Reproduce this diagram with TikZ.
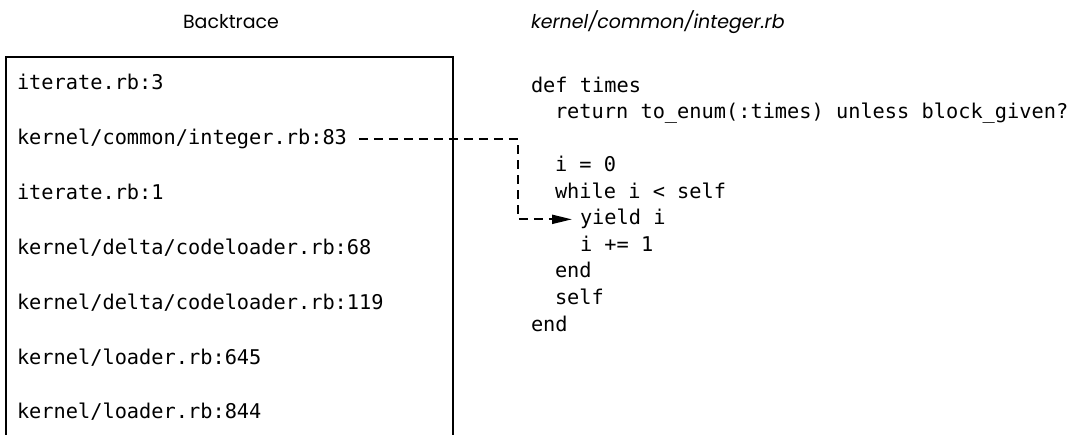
\documentclass[tikz,border=0pt]{standalone}
\usepackage{fontspec}
\setmonofont{DejaVu Sans Mono}
\newfontfamily\headfont{Poppins}
\usetikzlibrary{arrows.meta, positioning, calc}

\begin{document}
\begin{tikzpicture}[
    x=1pt, y=-1pt,
    every node/.style={inner sep=0pt, outer sep=0pt},
    heading/.style={font=\headfont\fontsize{19}{22}\selectfont},
    traceline/.style={anchor=base west, font=\ttfamily\fontsize{20.3}{26.5}\selectfont},
    codeline/.style={anchor=base west, font=\ttfamily\fontsize{20.3}{26.5}\selectfont},
    framebox/.style={draw=black, line width=2.4pt},
    jump/.style={draw=black, line width=2pt, dash pattern=on 9pt off 6pt, -{Triangle[length=20pt, width=9pt]}}
]
    \useasboundingbox (0,0) rectangle (1086,435);

    % headings
    \node[heading] (bthead) at (231,22) {Backtrace};
    \node[heading, anchor=west] (filehead) at (531,22) {\itshape kernel/common/integer.rb};

    % backtrace frame, open at the bottom
    \draw[framebox] (6,440) -- (6,57) -- (453,57) -- (453,440);

    % backtrace entries
    \node[traceline] (t3)   at (17,90)    {iterate.rb:3};
    \node[traceline] (t83)  at (17,144.8) {kernel/common/integer.rb:83};
    \node[traceline] (t1)   at (17,199.6) {iterate.rb:1};
    \node[traceline] (t68)  at (17,254.4) {kernel/delta/codeloader.rb:68};
    \node[traceline] (t119) at (17,309.2) {kernel/delta/codeloader.rb:119};
    \node[traceline] (t645) at (17,364)   {kernel/loader.rb:645};
    \node[traceline] (t844) at (17,418.8) {kernel/loader.rb:844};

    % source of Integer#times
    \node[codeline] (defln)    at (531,92.5)  {def times};
    \node[codeline] (retln)    at (555,119)   {return to\_enum(:times) unless block\_given?};
    \node[codeline] (initln)   at (555,172)   {i = 0};
    \node[codeline] (whileln)  at (555,198.5) {while i < self};
    \node[codeline] (yieldln)  at (580,225)   {yield i};
    \node[codeline] (incln)    at (580,251.5) {i += 1};
    \node[codeline] (endloop)  at (555,278)   {end};
    \node[codeline] (selfln)   at (555,304.5) {self};
    \node[codeline] (enddef)   at (531,331)   {end};

    \coordinate (bend) at (506,0);
    \draw[jump] ([xshift=12pt]t83.east) -- ([xshift=12pt]t83.east -| bend) |- ([xshift=-8pt]yieldln.west);
\end{tikzpicture}
\end{document}
